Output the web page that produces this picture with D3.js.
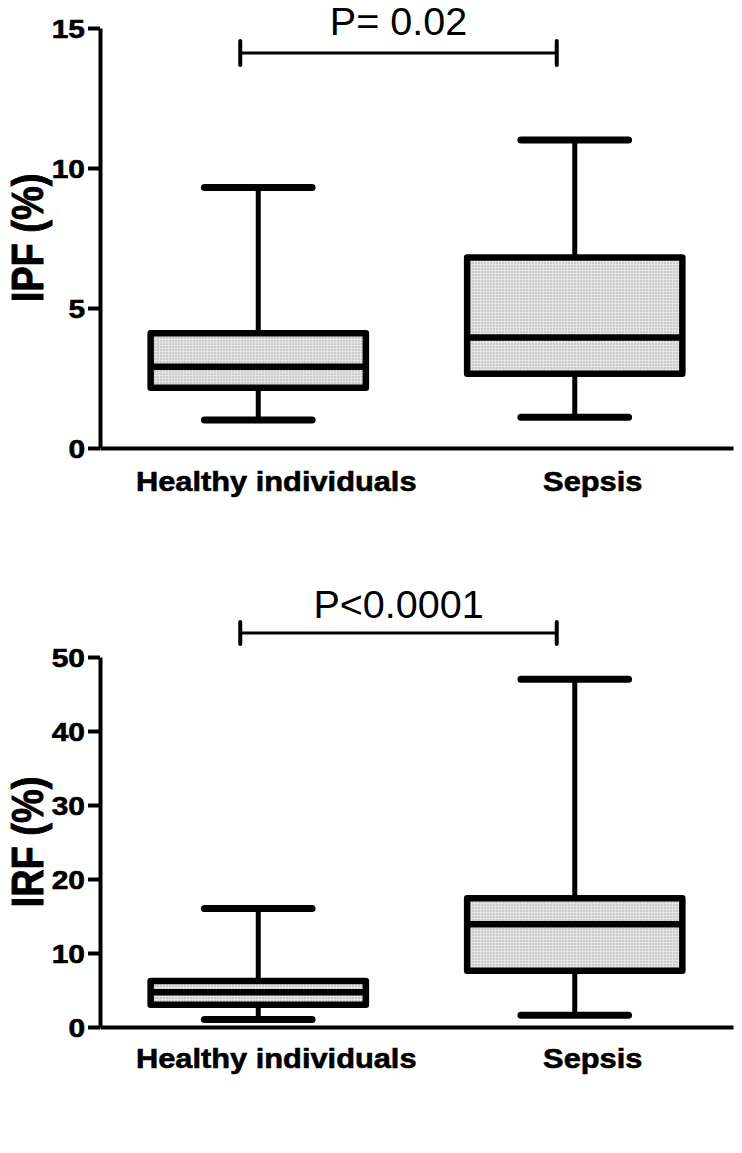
<!DOCTYPE html>
<html>
<head>
<meta charset="utf-8">
<script src="https://cdn.jsdelivr.net/npm/d3@7"></script>
<style>
  html, body { margin: 0; padding: 0; background: #fff; }
  svg { display: block; }
</style>
</head>
<body>
<div id="chart"></div>
<script>
// ---------- data ----------
const categories = ["Healthy individuals", "Sepsis"];

const ipfMin    = [1.0, 1.1];
const ipfQ1     = [2.15, 2.65];
const ipfMedian = [2.9, 3.95];
const ipfQ3     = [4.1, 6.8];
const ipfMax    = [9.3, 11.0];
const ipfTicks  = [0, 5, 10, 15];

const irfMin    = [1.0, 1.6];
const irfQ1     = [3.0, 7.6];
const irfMedian = [4.7, 13.9];
const irfQ3     = [6.2, 17.4];
const irfMax    = [16.0, 47.0];
const irfTicks  = [0, 10, 20, 30, 40, 50];

const yTitles = ["IPF (%)", "IRF (%)"];
const pLabels = ["P= 0.02", "P<0.0001"];

// ---------- layout ----------
const W = 742, H = 1153;
const FONT = "'Liberation Sans', Arial, Helvetica, sans-serif";
const SX = 1.15;   // horizontal stretch of the original figure's text
const SXL = 1.1;   // stretch for category labels

const svg = d3.select("#chart").append("svg")
  .attr("width", W).attr("height", H)
  .attr("viewBox", `0 0 ${W} ${H}`);

svg.append("rect").attr("width", W).attr("height", H).attr("fill", "#fff");

// dotted grey fill pattern
const defs = svg.append("defs");
const pat = defs.append("pattern")
  .attr("id", "dots").attr("patternUnits", "userSpaceOnUse")
  .attr("width", 3).attr("height", 3);
pat.append("rect").attr("width", 3).attr("height", 3).attr("fill", "#c9c9c9");
pat.append("rect").attr("width", 3).attr("height", 1).attr("fill", "#e6e6e6");
pat.append("rect").attr("width", 1).attr("height", 3).attr("fill", "#e6e6e6");

const panels = [
  { min: ipfMin, q1: ipfQ1, med: ipfMedian, q3: ipfQ3, max: ipfMax, ticks: ipfTicks,
    domain: [0, 15], top: 28, bottom: 448, title: yTitles[0], p: pLabels[0],
    bracketY: 53, bracketHalf: 12, pBaseline: 35, labelBaseline: 491 },
  { min: irfMin, q1: irfQ1, med: irfMedian, q3: irfQ3, max: irfMax, ticks: irfTicks,
    domain: [0, 50], top: 657, bottom: 1027, title: yTitles[1], p: pLabels[1],
    bracketY: 633, bracketHalf: 11, pBaseline: 618, labelBaseline: 1068 }
];

const xLeft = 100, xRight = 733;
const bracketShift = -18;
const labelShift = 18;

panels.forEach(pn => {
  const g = svg.append("g");

  const x = d3.scaleBand().domain(categories).range([xLeft, xRight]).padding(0);
  const y = d3.scaleLinear().domain(pn.domain).range([pn.bottom, pn.top]);
  const bw = x.bandwidth();
  const boxW = bw * 0.68;
  const capW = bw * 0.34;
  const cx = c => x(c) + bw / 2;

  // y axis
  const yAxis = g.append("g")
    .attr("transform", `translate(${xLeft},0)`)
    .call(d3.axisLeft(y).tickValues(pn.ticks).tickSize(12).tickSizeOuter(0).tickFormat(d3.format("d")));
  yAxis.select(".domain").attr("stroke", "#000").attr("stroke-width", 4);
  yAxis.selectAll(".tick line").attr("stroke", "#000").attr("stroke-width", 4);
  yAxis.selectAll(".tick text")
    .attr("x", 0).attr("dy", "0.35em")
    .attr("transform", `translate(-15,0) scale(${SX},1)`)
    .attr("text-anchor", "end")
    .attr("font-family", FONT).attr("font-weight", "bold")
    .attr("font-size", 26).attr("fill", "#000")
    .attr("stroke", "#000").attr("stroke-width", 0.6);

  // x axis
  const xAxis = g.append("g")
    .attr("transform", `translate(0,${pn.bottom})`)
    .call(d3.axisBottom(x).tickSize(0).tickSizeOuter(0));
  xAxis.select(".domain").attr("stroke", "#000").attr("stroke-width", 4);
  xAxis.selectAll(".tick text")
    .attr("y", 0).attr("dy", 0)
    .attr("transform", `translate(${labelShift},${pn.labelBaseline - pn.bottom}) scale(${SXL},1)`)
    .attr("text-anchor", "middle")
    .attr("font-family", FONT).attr("font-weight", "bold")
    .attr("font-size", 28).attr("fill", "#000")
    .attr("stroke", "#000").attr("stroke-width", 0.6);

  // y title
  const ty = (pn.top + pn.bottom) / 2;
  g.append("text")
    .attr("transform", `translate(43,${ty}) scale(${SX},1) rotate(-90)`)
    .attr("text-anchor", "middle")
    .attr("font-family", FONT).attr("font-weight", "bold")
    .attr("font-size", 38).attr("fill", "#000")
    .attr("stroke", "#000").attr("stroke-width", 0.8)
    .text(pn.title);

  // boxes
  categories.forEach((c, i) => {
    const xc = cx(c);
    // whiskers
    g.append("line")
      .attr("x1", xc).attr("x2", xc)
      .attr("y1", y(pn.q3[i])).attr("y2", y(pn.max[i]))
      .attr("stroke", "#000").attr("stroke-width", 5);
    g.append("line")
      .attr("x1", xc).attr("x2", xc)
      .attr("y1", y(pn.q1[i])).attr("y2", y(pn.min[i]))
      .attr("stroke", "#000").attr("stroke-width", 5);
    // caps
    [pn.max[i], pn.min[i]].forEach(v => {
      g.append("line")
        .attr("x1", xc - capW / 2).attr("x2", xc + capW / 2)
        .attr("y1", y(v)).attr("y2", y(v))
        .attr("stroke", "#000").attr("stroke-width", 7)
        .attr("stroke-linecap", "round");
    });
    // box
    g.append("rect")
      .attr("x", xc - boxW / 2).attr("width", boxW)
      .attr("y", y(pn.q3[i])).attr("height", y(pn.q1[i]) - y(pn.q3[i]))
      .attr("fill", "url(#dots)")
      .attr("stroke", "#000").attr("stroke-width", 6.5)
      .attr("stroke-linejoin", "round");
    // median
    g.append("line")
      .attr("x1", xc - boxW / 2).attr("x2", xc + boxW / 2)
      .attr("y1", y(pn.med[i])).attr("y2", y(pn.med[i]))
      .attr("stroke", "#000").attr("stroke-width", 6.5);
  });

  // significance bracket
  const bx1 = cx(categories[0]) + bracketShift;
  const bx2 = cx(categories[1]) + bracketShift;
  g.append("line")
    .attr("x1", bx1).attr("x2", bx2)
    .attr("y1", pn.bracketY).attr("y2", pn.bracketY)
    .attr("stroke", "#000").attr("stroke-width", 3);
  [bx1, bx2].forEach(bx => {
    g.append("line")
      .attr("x1", bx).attr("x2", bx)
      .attr("y1", pn.bracketY - pn.bracketHalf).attr("y2", pn.bracketY + pn.bracketHalf)
      .attr("stroke", "#000").attr("stroke-width", 4)
      .attr("stroke-linecap", "round");
  });
  g.append("text")
    .attr("transform", `translate(${(bx1 + bx2) / 2},${pn.pBaseline}) scale(1.04,1)`)
    .attr("text-anchor", "middle")
    .attr("font-family", FONT)
    .attr("font-size", 38).attr("fill", "#000")
    .text(pn.p);
});
</script>
</body>
</html>
